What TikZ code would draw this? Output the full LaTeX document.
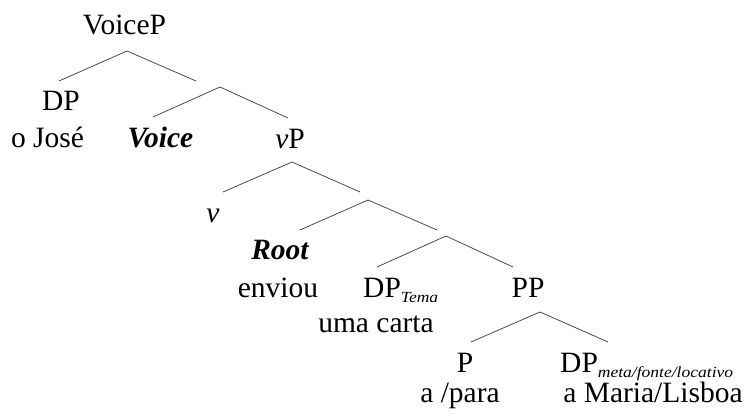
\documentclass[tikz,border=0pt]{standalone}
\usepackage{fontspec}
\setmainfont{Liberation Serif}
\newcommand{\subtxt}[1]{\raisebox{-4.5pt}{\scalebox{1.13}[1]{\fontsize{15.5}{16}\selectfont\itshape #1}}}
\begin{document}
\begin{tikzpicture}[x=1pt,y=-1pt,
  lbl/.style={inner sep=0pt,anchor=base,font=\fontsize{29.5}{34}\selectfont},
  lblw/.style={lbl,anchor=base west},
  branch/.style={draw=black!70,line width=0.8pt}]
\useasboundingbox (0,0) rectangle (752,419);
% labels
\node[lbl] (voicep) at (124.5,35) {VoiceP};
\node[lbl] (dp1) at (61,111) {DP};
\node[lbl] (jose) at (47.5,148) {o José};
\node[lbl] (voice) at (160.5,148) {\bfseries\itshape Voice};
\node[lbl] (vp) at (290,149) {\itshape v\upshape P};
\node[lbl] (v) at (213,223) {\itshape v};
\node[lbl] (root) at (280,260) {\bfseries\itshape Root};
\node[lbl] (enviou) at (278,298) {enviou};
\node[lblw] (dptema) at (363,298) {DP\subtxt{Tema}};
\node[lbl] (carta) at (376,333) {uma carta};
\node[lbl] (pp) at (528,298) {PP};
\node[lbl] (p) at (465,373) {P};
\node[lbl] (para) at (460,402) {a /para};
\node[lblw] (dpmeta) at (560,373) {DP\subtxt{meta/fonte/locativo}};
\node[lbl] (maria) at (653,402) {a Maria/Lisboa};
% branch points
\coordinate (a1) at (127,51);  \coordinate (a1l) at (59,81);   \coordinate (a1r) at (196,81);
\coordinate (a2) at (220,87);  \coordinate (a2l) at (153,117); \coordinate (a2r) at (288,118);
\coordinate (a3) at (292,162); \coordinate (a3l) at (223,192); \coordinate (a3r) at (360,192);
\coordinate (a4) at (368,200); \coordinate (a4l) at (300,230); \coordinate (a4r) at (437,230);
\coordinate (a5) at (446,236); \coordinate (a5l) at (377,267); \coordinate (a5r) at (513,267);
\coordinate (a6) at (540,312); \coordinate (a6l) at (471,342); \coordinate (a6r) at (608,342);
\foreach \i in {1,...,6}{
  \draw[branch] (a\i l) -- (a\i) -- (a\i r);
}
\end{tikzpicture}
\end{document}
